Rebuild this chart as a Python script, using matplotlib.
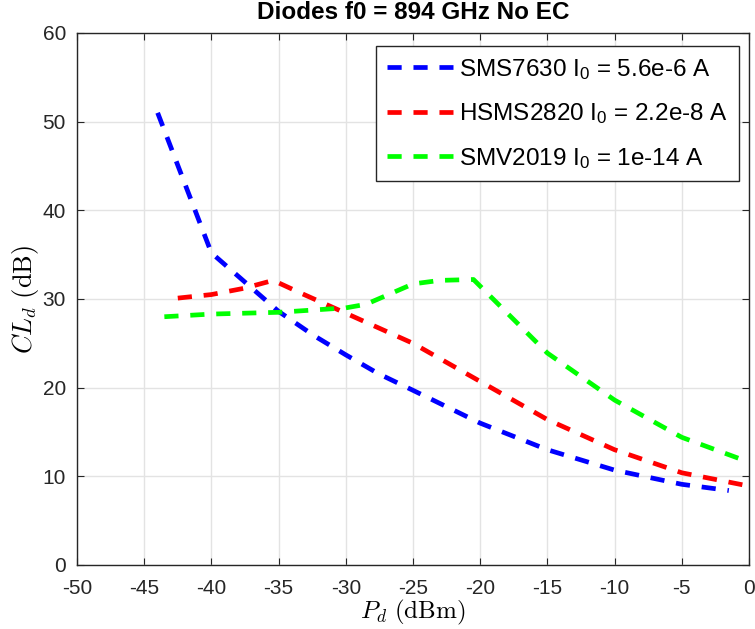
import matplotlib
matplotlib.use("Agg")
import matplotlib.pyplot as plt
from matplotlib.font_manager import FontProperties

plt.rcParams['font.family'] = ['Liberation Sans', 'DejaVu Sans']
plt.rcParams['axes.unicode_minus'] = False
plt.rcParams['mathtext.fontset'] = 'custom'
plt.rcParams['mathtext.rm'] = 'Liberation Sans'
plt.rcParams['mathtext.it'] = 'Liberation Sans:italic'
plt.rcParams['mathtext.bf'] = 'Liberation Sans:bold'

# Data
blue_x = [-44, -40, -35, -32.4, -30, -27.6, -25, -20, -15, -10, -5, -1.5]
blue_y = [51.0, 35.2, 28.6, 25.9, 23.7, 21.6, 19.7, 16.0, 13.0, 10.7, 9.1, 8.4]
red_x = [-42.5, -40, -37.6, -35.4, -33.4, -30, -25, -20, -15, -10, -5, 0]
red_y = [30.1, 30.5, 31.2, 32.1, 30.7, 28.4, 25.0, 20.7, 16.4, 13.0, 10.4, 8.9]
green_x = [-43.5, -40, -35, -30, -28.5, -25, -23, -20.5, -15, -10, -5, 0]
green_y = [28.0, 28.3, 28.5, 29.0, 29.4, 31.7, 32.1, 32.2, 23.9, 18.6, 14.4, 11.6]
labels = ['SMS7630 I$_0$ = 5.6e-6 A', 'HSMS2820 I$_0$ = 2.2e-8 A', 'SMV2019 I$_0$ = 1e-14 A']
colors = ['#0000ff', '#ff0000', '#00ff00']
x_ticks = [-50, -45, -40, -35, -30, -25, -20, -15, -10, -5, 0]
y_ticks = [0, 10, 20, 30, 40, 50, 60]

fig = plt.figure(figsize=(7.55, 6.29), dpi=100)
ax = fig.add_axes([77/755, 1-565/629, (749-77)/755, (565-33)/629])

lw = 3.4
for xs, ys, c, lab in zip([blue_x, red_x, green_x], [blue_y, red_y, green_y], colors, labels):
    ax.plot(xs, ys, color=c, lw=lw, dashes=(3.0, 2.5), label=lab, dash_capstyle='butt')

ax.set_xlim(-50, 0)
ax.set_ylim(0, 60)
ax.set_xticks(x_ticks)
ax.set_yticks(y_ticks)
ax.grid(True, color='#e3e3e3', lw=1)
ax.set_axisbelow(True)
axcol = '#262626'
for s in ax.spines.values():
    s.set_color(axcol)
    s.set_linewidth(1.0)
ax.tick_params(direction='in', length=5, width=0.8, colors=axcol, labelsize=15,
               top=True, right=True)
ax.tick_params(axis='x', pad=10)
ax.tick_params(axis='y', pad=8)

ax.set_title('Diodes f0 = 894 GHz No EC', fontsize=17.5, fontweight='bold', pad=10)
ax.set_xlabel(r'$P_d\ \mathrm{(dBm)}$', fontsize=18, math_fontfamily='cm', labelpad=0)
ax.set_ylabel(r'$CL_d\ \mathrm{(dB)}$', fontsize=19, math_fontfamily='cm', labelpad=1)

leg = ax.legend(loc='upper right', bbox_to_anchor=(739/755, 1-46/629), bbox_transform=fig.transFigure,
                prop=FontProperties(family='Liberation Sans', size=17.5),
                fancybox=False, framealpha=1, edgecolor='#262626',
                handlelength=2.7, handletextpad=0.25, borderpad=0.45, labelspacing=0.8,
                borderaxespad=0)
leg.get_frame().set_linewidth(1.0)

fig.savefig('out.png', dpi=100)
